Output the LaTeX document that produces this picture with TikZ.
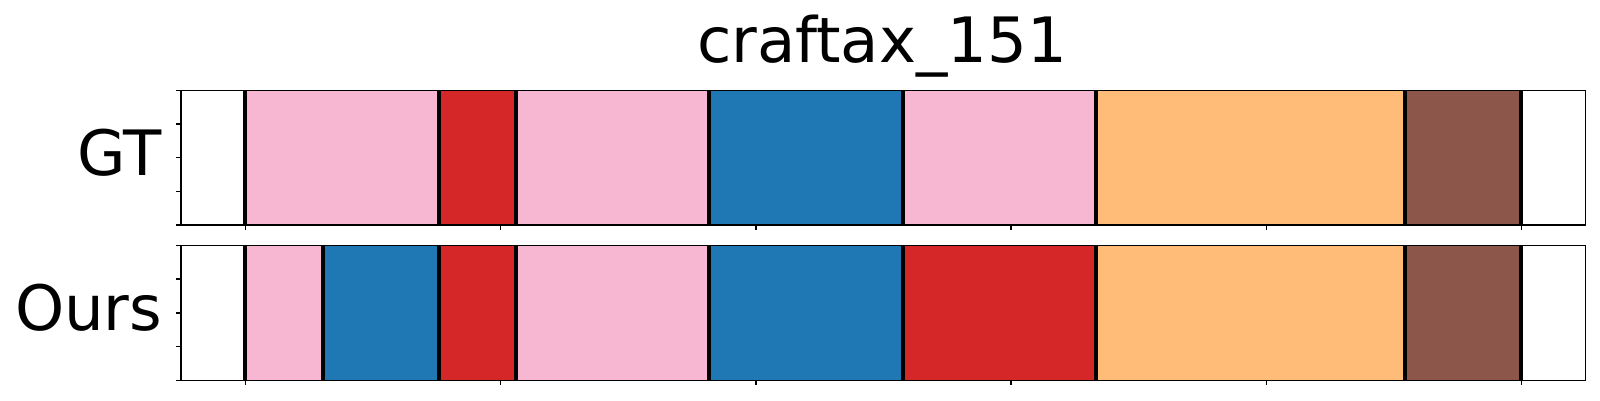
\documentclass[tikz,border=0pt]{standalone}
\usepackage{fontspec}
\setmainfont{DejaVu Sans}
\definecolor{cpink}{HTML}{F7B6D2}
\definecolor{cred}{HTML}{D62728}
\definecolor{cblue}{HTML}{1F77B4}
\definecolor{corange}{HTML}{FFBB78}
\definecolor{cbrown}{HTML}{8C564B}
\tikzset{
  lbl/.style={inner sep=0pt, font=\fontsize{17.8}{21}\selectfont},
  seg/.style={fill=#1, draw=none},
  bound/.style={draw=black, line width=1.2pt},
  frame/.style={draw=black, line width=0.4pt},
  tick/.style={draw=black, line width=0.4pt}
}
\begin{document}
\begin{tikzpicture}[x=0.1mm,y=-0.1mm]
\useasboundingbox (0,0) rectangle (1600,400);
% panels: top 90.3..225, bottom 245.3..380.3; x 181..1585.7
\def\L{181}\def\R{1585.7}
% GT segments
\foreach \a/\b/\c in {245/439/cpink, 439/515.7/cred, 515.7/708.7/cpink, 708.7/903/cblue, 903/1096/cpink, 1096/1404.7/corange, 1404.7/1521/cbrown}
  \fill[seg=\c] (\a,90.3) rectangle (\b,225);
% Ours segments
\foreach \a/\b/\c in {245/323/cpink, 323/439/cblue, 439/515.7/cred, 515.7/708.7/cpink, 708.7/903/cblue, 903/1096/cred, 1096/1404.7/corange, 1404.7/1521/cbrown}
  \fill[seg=\c] (\a,245.3) rectangle (\b,380.3);
% boundaries
\foreach \x in {245,439,515.7,708.7,903,1096,1404.7,1521}
  \draw[bound] (\x,90.3) -- (\x,225);
\foreach \x in {245,323,439,515.7,708.7,903,1096,1404.7,1521}
  \draw[bound] (\x,245.3) -- (\x,380.3);
% frames
\draw[frame] (\L,90.3) rectangle (\R,225);
\draw[frame] (\L,245.3) rectangle (\R,380.3);
% ticks
\foreach \k in {0,...,4} {
  \draw[tick] (\L,90.3+\k*33.675) -- ++(-4.9,0);
  \draw[tick] (\L,245.3+\k*33.75) -- ++(-4.9,0);
}
\foreach \k in {0,...,5} {
  \draw[tick] (245.3+\k*255.28,225) -- ++(0,4.9);
  \draw[tick] (245.3+\k*255.28,380.3) -- ++(0,4.9);
}
% labels
\node[lbl, anchor=base] (title) at (882,62.7) {craftax\_151};
\node[lbl, anchor=base east] (gt) at (162.5,175) {GT};
\node[lbl, anchor=base east] (ours) at (163,330) {Ours};
\end{tikzpicture}
\end{document}
